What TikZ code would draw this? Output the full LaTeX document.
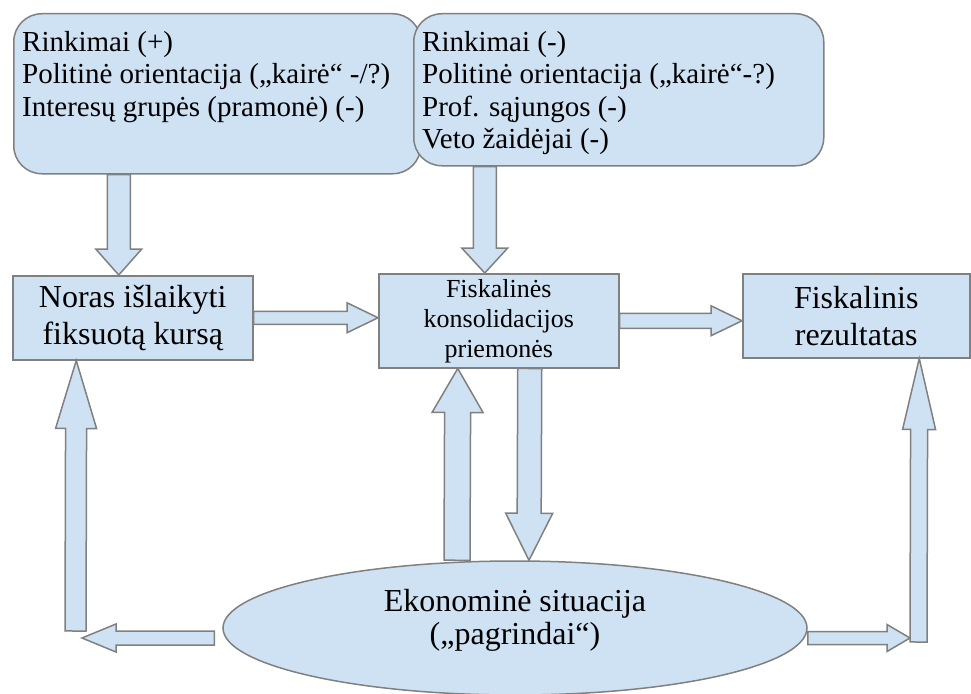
\documentclass[tikz,border=0pt]{standalone}
\usepackage{fontspec}
\setmainfont{Liberation Serif}
\usetikzlibrary{calc, shapes.geometric}

\definecolor{boxfill}{HTML}{CFE2F3}
\definecolor{edgegray}{HTML}{808080}

% stora rodyklė: nuo, iki, pusė koto, pusė galvutės, galvutės ilgis
\newcommand{\fatarrow}[5]{%
  \coordinate (fa-s) at (#1);
  \coordinate (fa-t) at (#2);
  \coordinate (fa-h) at ($(fa-t)!#5!(fa-s)$);
  \draw[fat]
    ($(fa-s)!#3!90:(fa-t)$) -- ($(fa-h)!#3!90:(fa-t)$) --
    ($(fa-h)!#4!90:(fa-t)$) -- (fa-t) --
    ($(fa-h)!#4!-90:(fa-t)$) -- ($(fa-h)!#3!-90:(fa-t)$) --
    ($(fa-s)!#3!-90:(fa-t)$) -- cycle;
}

\begin{document}
\begin{tikzpicture}[x=1pt, y=-1pt,
  box/.style={draw=edgegray, fill=boxfill, line width=1.5pt, inner sep=0pt},
  fat/.style={draw=edgegray, fill=boxfill, line width=1.5pt, line join=miter},
  bigtxt/.style={font=\fontsize{32pt}{37pt}\selectfont, align=center},
  toptxt/.style={anchor=north west, align=left, inner xsep=9pt, inner ysep=18pt,
    font=\fontsize{29pt}{32.5pt}\selectfont}]

\useasboundingbox (0,0) rectangle (971,693);

% veiksniai viršuje
\node[box, rounded corners=28pt, anchor=north west, minimum width=407pt, minimum height=160pt,
  label={[toptxt]north west:{Rinkimai (+)\\Politinė orientacija („kairė“ -/?)\\Interesų grupės (pramonė) (-)}}]
  (top1) at (13,13) {};
\node[box, rounded corners=28pt, anchor=north west, minimum width=410pt, minimum height=152pt,
  label={[toptxt]north west:{Rinkimai (-)\\Politinė orientacija („kairė“-?)\\Prof. sąjungos (-)\\Veto žaidėjai (-)}}]
  (top2) at (413,13) {};

% vidurinė eilė
\node[box, bigtxt, anchor=north west, minimum width=240pt, minimum height=84pt]
  (noras) at (12,275) {Noras išlaikyti\\fiksuotą kursą};
\node[box, anchor=north west, minimum width=240pt, minimum height=94pt, align=center,
  font=\fontsize{26pt}{30pt}\selectfont]
  (fkp) at (378,273) {Fiskalinės\\konsolidacijos\\priemonės};
\node[box, bigtxt, anchor=north west, minimum width=227pt, minimum height=84pt]
  (frez) at (742,273) {Fiskalinis\\rezultatas};

% ekonominė situacija
\node[box, ellipse, minimum width=584pt, minimum height=134pt] (eko) at (515,628) {};
\node[bigtxt, font=\fontsize{32pt}{33pt}\selectfont] (ekotxt) at ([yshift=8pt]eko.center)
  {Ekonominė situacija\\(„pagrindai“)};

% laisvi rodyklių galai
\coordinate (lefttip) at (82,638);
\coordinate (leftfoot) at (75.5,631);
\coordinate (righttip) at (910,638);
\coordinate (rightfoot) at (918.5,642);

% rodyklės
\fatarrow{[xshift=-98.5pt]top1.south}{[xshift=-14pt]noras.north}{11.5pt}{23pt}{26pt}
\fatarrow{[xshift=-134pt]top2.south}{[xshift=-14pt]fkp.north}{11.5pt}{23pt}{25pt}
\fatarrow{noras.east}{fkp.west |- noras.east}{6.5pt}{15pt}{31pt}
\fatarrow{fkp.east}{frez.west |- fkp.east}{7.5pt}{15pt}{31pt}
\fatarrow{[xshift=-58pt]eko.north}{[xshift=-41pt]fkp.south}{13pt}{25.5pt}{44pt}
\fatarrow{[xshift=31pt]fkp.south}{[xshift=14pt]eko.north}{12pt}{23.5pt}{47pt}
\fatarrow{[shift={(-8pt,-10pt)}]eko.west}{lefttip}{7pt}{14pt}{34pt}
\fatarrow{leftfoot}{[xshift=-56.5pt]noras.south}{10.5pt}{20.5pt}{68pt}
\fatarrow{[yshift=-10pt]eko.east}{righttip}{6.5pt}{13.5pt}{23pt}
\fatarrow{rightfoot}{[xshift=63pt]frez.south}{8.5pt}{16.5pt}{71pt}

\end{tikzpicture}
\end{document}
